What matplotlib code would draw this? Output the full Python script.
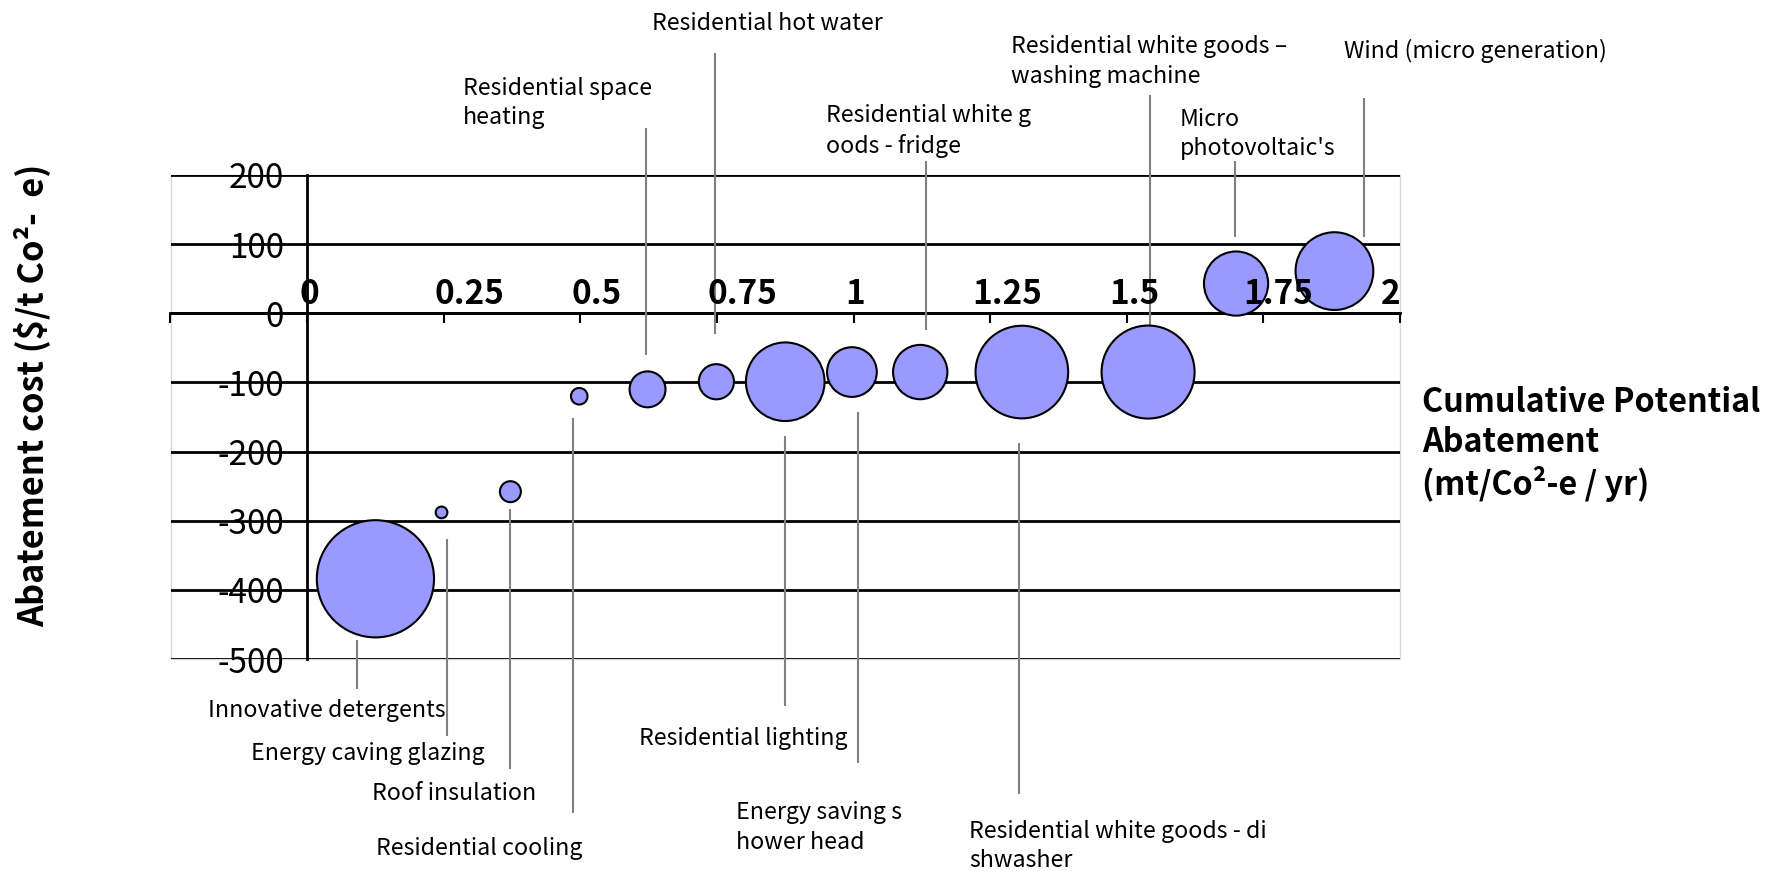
"""Marginal abatement cost bubble chart for residential measures."""

import numpy as np
import matplotlib
matplotlib.use("Agg")
import matplotlib.pyplot as plt
from matplotlib.patches import Rectangle
from matplotlib.transforms import offset_copy

plt.rcParams["font.family"] = ["Noto Sans CJK KR", "DejaVu Sans"]
plt.rcParams["axes.unicode_minus"] = False

# measures, cumulative potential (x), cost (y) and relative bubble size
measures = [
    "Innovative detergents", "Energy caving glazing", "Roof insulation",
    "Residential cooling", "Residential space heating", "Residential hot water",
    "Residential lighting", "Energy saving shower head", "Residential white goods - fridge",
    "Residential white goods - dishwasher", "Residential white goods - washing machine",
    "Micro photovoltaic's", "Wind (micro generation)",
]
potential = [0.125, 0.246, 0.372, 0.498, 0.623, 0.749, 0.875, 0.997, 1.122, 1.308, 1.539, 1.700, 1.880]
cost = [-384, -288, -258, -120, -110, -99, -99, -85, -85, -85, -85, 43, 61]
bubble_size = [100, 1, 3.2, 2, 9.4, 9, 45, 18, 21.5, 62.5, 63, 30, 44]

x_ticks = [0, 0.25, 0.5, 0.75, 1, 1.25, 1.5, 1.75, 2]
x_tick_labels = ["0", "0.25", "0.5", "0.75", "1", "1.25", "1.5", "1.75", "2"]
y_ticks = [-500, -400, -300, -200, -100, 0, 100, 200]

# horizontal nudge (px) of each x tick label's left edge from its tick
x_label_nudge = [-8, -9, -9, -9, -8, -18, -18, -20, -19]

# label text (as wrapped on the slide), text anchor x / baseline y of the
# last line, leader line x and its two y ends
labels = [
    ("Innovative detergents", -0.181, -583.5, 0.092, -472, -544),
    ("Energy caving glazing", -0.103, -646, 0.256, -327, -611),
    ("Roof insulation", 0.1185, -704, 0.372, -283, -659),
    ("Residential cooling", 0.126, -783, 0.487, -152, -723),
    ("Residential lighting", 0.608, -624, 0.874, -178, -568),
    ("Energy saving s\nhower head", 0.784, -774.5, 1.009, -143, -650),
    ("Residential white goods - di\nshwasher", 1.212, -801, 1.3035, -188, -695),
    ("Residential space\nheating", 0.285, 273.5, 0.620, 268, -60),
    ("Residential hot water", 0.631, 409, 0.746, 376, -30),
    ("Residential white g\noods - fridge", 0.950, 232.5, 1.133, 220, -24),
    ("Residential white goods \u2013\nwashing machine", 1.289, 333.5, 1.542, 316, -24),
    ("Micro\nphotovoltaic's", 1.597, 228.5, 1.698, 220, 110),
    ("Wind (micro generation)", 1.897, 369, 1.934, 311, 110),
]

BUBBLE_FACE = "#9999FF"
LEADER = "#808080"
LABEL_SIZE = 16.7

fig = plt.figure(figsize=(17.86, 8.71), dpi=100)
ax = fig.add_axes([170.5 / 1786, 1 - 659 / 871, (1400 - 170.5) / 1786, (659 - 175) / 871])
ax.set_xlim(-0.25, 2.0)
ax.set_ylim(-500, 200)

ax.set_yticks(y_ticks)
ax.yaxis.grid(True, color="black", linewidth=2.0, zorder=1)
ax.set_axisbelow(True)

for side in ("top", "right"):
    ax.spines[side].set_visible(False)
ax.spines["left"].set_position(("data", 0))
ax.spines["bottom"].set_position(("data", 0))
ax.spines["left"].set_linewidth(2.0)
ax.spines["bottom"].set_linewidth(2.0)

ax.tick_params(axis="y", length=0, pad=16.5, labelsize=24)
ax.set_xticks(np.arange(-0.25, 2.01, 0.25))
ax.tick_params(axis="x", direction="out", length=7, width=1.5, labelbottom=False)

# bold x tick labels sit just above the zero line
for xv, txt, dx in zip(x_ticks, x_tick_labels, x_label_nudge):
    tf = offset_copy(ax.transData, fig=fig, x=dx, y=2, units="dots")
    ax.text(xv, 0, txt, transform=tf, ha="left", va="bottom",
            fontsize=24, fontweight="bold", zorder=6)

# faint plot-area frame
ax.add_patch(Rectangle((0, 0), 1, 1, transform=ax.transAxes, fill=False,
                       edgecolor="#D9D9D9", linewidth=1.0, clip_on=False, zorder=0))

ax.scatter(potential, cost, s=np.array(bubble_size) * 71.2, color=BUBBLE_FACE,
           edgecolors="black", linewidths=1.5, zorder=4, clip_on=False)

for text, tx, ty, lx, ly0, ly1 in labels:
    ax.plot([lx, lx], [ly0, ly1], color=LEADER, linewidth=1.5,
            solid_capstyle="butt", clip_on=False, zorder=3)
    ax.text(tx, ty, text, ha="left", va="baseline", fontsize=LABEL_SIZE,
            linespacing=1.35, clip_on=False, zorder=5)

fig.text(0.018, 0.5465, "Abatement cost ($/t Co\u00b2-  e)", rotation=90,
         ha="center", va="center", fontsize=24.7, fontweight="bold")
fig.text(1421.7 / 1786, 1 - 495 / 871,
         "Cumulative Potential\nAbatement\n(mt/Co\u00b2-e / yr)",
         ha="left", va="baseline", fontsize=23.3, fontweight="bold", linespacing=1.25)

fig.savefig("out.png", dpi=100, facecolor="white")
